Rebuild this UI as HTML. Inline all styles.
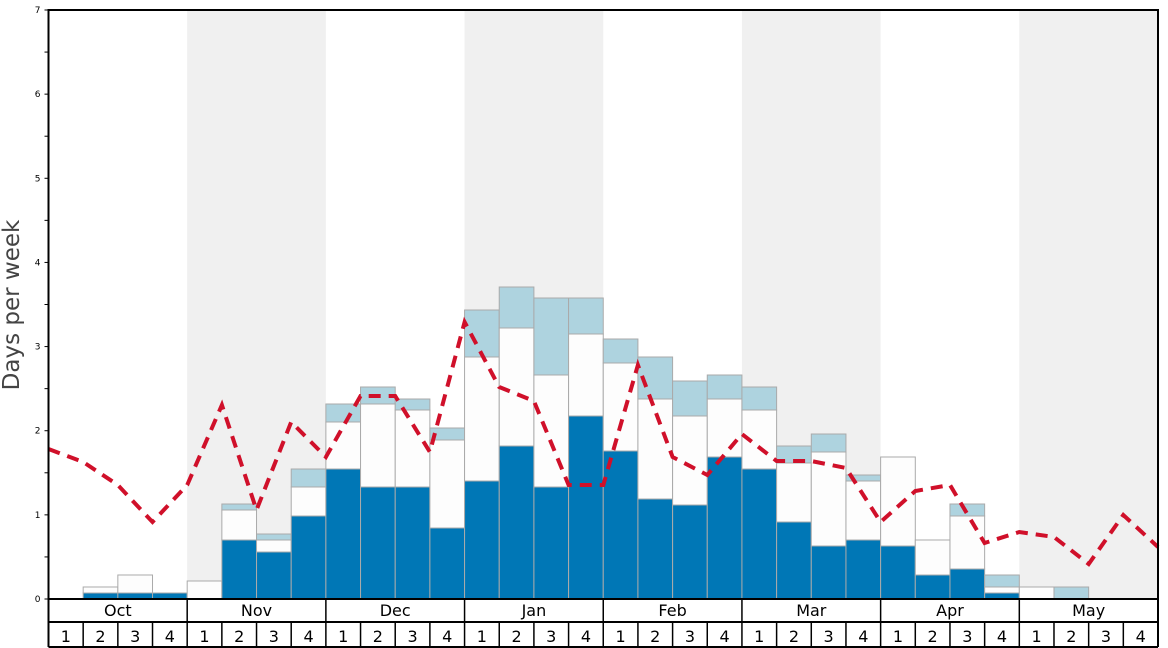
<!DOCTYPE html>
<html><head><meta charset="utf-8"><style>
html,body{margin:0;padding:0;background:#fff;width:1168px;height:648px;overflow:hidden}
svg text{font-family:"DejaVu Sans","Liberation Sans",sans-serif}
</style></head><body>
<svg id="c" width="1168" height="648" xmlns="http://www.w3.org/2000/svg"></svg>
<script>
const L=48.5,R=1158,T=10,B=599,W=(R-L)/32;
let s='';
[1,3,5,7].forEach(m=>{s+=`<rect x="${L+m*4*W}" y="${T}" width="${4*W}" height="${B-T}" fill="#f0f0f0"/>`;});
const d=[[null,null,null],[593,587,null],[593,575,null],[593,null,null],
[null,581,null],[540,510,504],[552,540,534],[516,487,469],
[469,422,404],[487,404,387],[487,410,399],[528,440,428],
[481,357,310],[446,328,287],[487,375,298],[416,334,298],
[451,363,339],[499,399,357],[505,416,381],[457,399,375],
[469,410,387],[522,463,446],[546,452,434],[540,481,475],
[546,457,null],[575,540,null],[569,516,504],[593,587,575],
[null,587,null],[null,null,587],[null,null,null],[null,null,null]];
d.forEach((b,i)=>{const x=L+i*W;let base=B;
 const [bl,wh,lb]=b;
 if(bl!==null){s+=`<rect x="${x}" y="${bl}" width="${W}" height="${base-bl}" fill="#0077b6" stroke="#aaa" stroke-width="1"/>`;base=bl;}
 if(wh!==null){s+=`<rect x="${x}" y="${wh}" width="${W}" height="${base-wh}" fill="#fdfdfd" stroke="#aaa" stroke-width="1"/>`;base=wh;}
 if(lb!==null){s+=`<rect x="${x}" y="${lb}" width="${W}" height="${base-lb}" fill="#aed3df" stroke="#aaa" stroke-width="1"/>`;}
});
const r=[449,462,485,522,485,405,510,422,457,396,396,452,322,387,401,485,485,365,457,475,434,461,461,468,522,491,485,543,532,537,564,515,547];
s+=`<polyline fill="none" stroke="#d0102a" stroke-width="4" stroke-dasharray="12,8" points="${r.map((v,i)=>(L+i*W).toFixed(1)+','+v).join(' ')}"/>`;
s+=`<rect x="${L}" y="${T}" width="${R-L}" height="${B-T}" fill="none" stroke="#000" stroke-width="2"/>`;
for(let k=0;k<=14;k++){const yy=B-k*(B-T)/14;s+=`<line x1="${L-4}" x2="${L}" y1="${yy}" y2="${yy}" stroke="#000"/>`;
 if(k%2==0)s+=`<text x="${L-8}" y="${yy+3}" font-size="9" text-anchor="end">${k/2}</text>`;}
s+=`<text transform="translate(19,305) rotate(-90)" font-size="23" fill="#444" text-anchor="middle">Days per week</text>`;
s+=`<line x1="${L}" x2="${L}" y1="${B}" y2="647" stroke="#000" stroke-width="2"/>`;
s+=`<line x1="${R}" x2="${R}" y1="${B}" y2="647" stroke="#000" stroke-width="2"/>`;
s+=`<line x1="${L}" x2="${R}" y1="622" y2="622" stroke="#000" stroke-width="2"/>`;
s+=`<line x1="${L}" x2="${R}" y1="647" y2="647" stroke="#000" stroke-width="2"/>`;
const M=['Oct','Nov','Dec','Jan','Feb','Mar','Apr','May'];
M.forEach((m,i)=>{const x=L+i*4*W;if(i>0)s+=`<line x1="${x}" x2="${x}" y1="${B}" y2="622" stroke="#000" stroke-width="1.5"/>`;
 s+=`<text x="${x+2*W}" y="616" font-size="16" text-anchor="middle">${m}</text>`;});
for(let i=0;i<32;i++){const x=L+i*W;if(i>0)s+=`<line x1="${x}" x2="${x}" y1="622" y2="647" stroke="#000" stroke-width="1.5"/>`;
 s+=`<text x="${x+W/2}" y="642" font-size="16" text-anchor="middle">${i%4+1}</text>`;}
document.getElementById('c').innerHTML=s;
</script>
</body></html>
